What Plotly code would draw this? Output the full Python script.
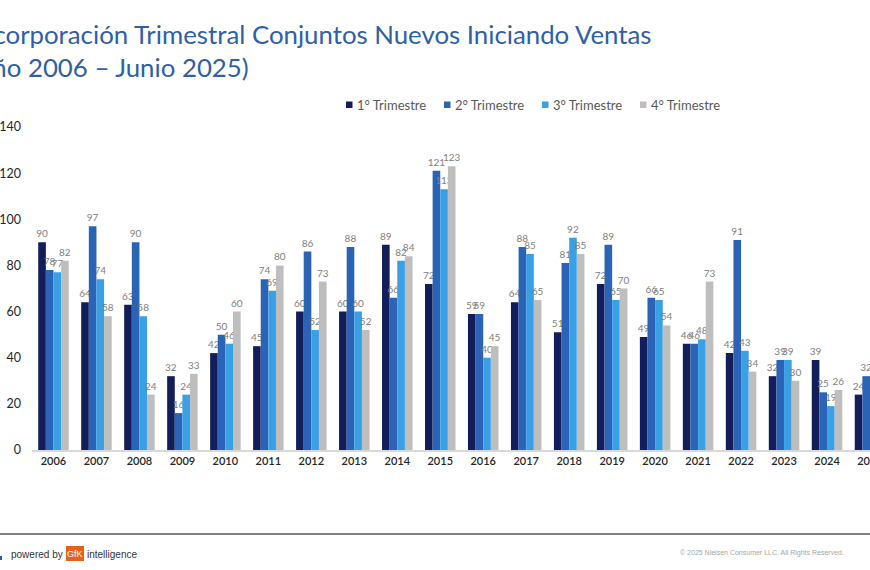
import plotly.graph_objects as go

years = ["2006", "2007", "2008", "2009", "2010", "2011", "2012", "2013", "2014", "2015",
         "2016", "2017", "2018", "2019", "2020", "2021", "2022", "2023", "2024", "2025"]
q1 = [90, 64, 63, 32, 42, 45, 60, 60, 89, 72, 59, 64, 51, 72, 49, 46, 42, 32, 39, 24]
q2 = [78, 97, 90, 16, 50, 74, 86, 88, 66, 121, 59, 88, 81, 89, 66, 46, 91, 39, 25, 32]
q3 = [77, 74, 58, 24, 46, 69, 52, 60, 82, 113, 40, 85, 92, 65, 65, 48, 43, 39, 19, None]
q4 = [82, 58, 24, 33, 60, 80, 73, 52, 84, 123, 45, 65, 85, 70, 54, 73, 34, 30, 26, None]
series_names = ["1° Trimestre", "2° Trimestre", "3° Trimestre", "4° Trimestre"]
series_values = [q1, q2, q3, q4]
series_colors = ["#131d5a", "#2b63b6", "#3aa0e6", "#bebebe"]
y_ticks = [0, 20, 40, 60, 80, 100, 120, 140]

W, H = 870, 570
L, R, T, B = 32, 0, 127, 120
PW = W - L - R
PH = H - T - B


def px_x(x):
    return (x - L) / PW


def px_y(y):
    return (H - B - y) / PH


fig = go.Figure()
for name, vals, col in zip(series_names, series_values, series_colors):
    fig.add_trace(go.Bar(
        x=years, y=vals, name=name, marker_color=col, marker_line_width=0,
        text=[("" if v is None else str(v)) for v in vals],
        textposition="outside", cliponaxis=False, constraintext="none",
        textfont=dict(family="Lato", size=10, color="#808080"),
        showlegend=False,
    ))

fig.update_layout(
    width=W, height=H,
    margin=dict(l=L, r=R, t=T, b=B, autoexpand=False),
    paper_bgcolor="white", plot_bgcolor="white",
    barmode="group", bargap=0.29, bargroupgap=0,
    font=dict(family="Lato", color="#262626"),
    showlegend=False,
    xaxis=dict(type="category", range=[-0.5, 19.0], showgrid=False,
               showline=True, linecolor="#d9d9d9", linewidth=1.5,
               ticks="", tickfont=dict(family="Lato", size=11, color="#262626", weight=600)),
    yaxis=dict(range=[0, 140], tickvals=y_ticks, showgrid=False, showline=False,
               zeroline=False, ticks="", ticklabelstandoff=10,
               tickfont=dict(family="Lato", size=12.5, color="#262626")),
)

# legend (squares + labels)
legend_x = [346, 444, 542, 640]
for lx, name, col in zip(legend_x, series_names, series_colors):
    fig.add_shape(type="rect", xref="paper", yref="paper",
                  x0=px_x(lx), x1=px_x(lx + 6.5), y0=px_y(101.5), y1=px_y(108),
                  fillcolor=col, line_width=0)
    fig.add_annotation(xref="paper", yref="paper", x=px_x(lx + 9), y=px_y(104.5),
                       xanchor="left", yanchor="middle", showarrow=False,
                       text=name, font=dict(family="Lato", size=13, color="#595959"))

title_color = "#2f5fa7"
fig.add_annotation(xref="paper", yref="paper", x=px_x(-30), y=px_y(34),
                   xanchor="left", yanchor="middle", showarrow=False,
                   text="Incorporación Trimestral Conjuntos Nuevos Iniciando Ventas",
                   font=dict(family="Lato", size=25.8, color=title_color))
fig.add_annotation(xref="paper", yref="paper", x=px_x(-34.5), y=px_y(67),
                   xanchor="left", yanchor="middle", showarrow=False,
                   text="(Año 2006 – Junio 2025)",
                   font=dict(family="Lato", size=25.8, color=title_color))

# footer
fig.add_shape(type="line", xref="paper", yref="paper", x0=px_x(0), x1=px_x(W),
              y0=px_y(534), y1=px_y(534), line=dict(color="#595959", width=1.5))
fig.add_shape(type="rect", xref="paper", yref="paper", x0=px_x(66), x1=px_x(84),
              y0=px_y(546), y1=px_y(561), fillcolor="#e8601c", line_width=0)
fig.add_shape(type="rect", xref="paper", yref="paper", x0=px_x(0), x1=px_x(2),
              y0=px_y(556), y1=px_y(560), fillcolor="#2f5fa7", line_width=0)
fig.add_annotation(xref="paper", yref="paper", x=px_x(9), y=px_y(554),
                   xanchor="left", yanchor="middle", showarrow=False,
                   text="powered by", font=dict(family="Liberation Sans", size=10, color="#333333"))
fig.add_annotation(xref="paper", yref="paper", x=px_x(75), y=px_y(554),
                   xanchor="center", yanchor="middle", showarrow=False,
                   text="GfK", font=dict(family="Liberation Sans", size=9, color="white"))
fig.add_annotation(xref="paper", yref="paper", x=px_x(85), y=px_y(554),
                   xanchor="left", yanchor="middle", showarrow=False,
                   text="intelligence", font=dict(family="Liberation Sans", size=10, color="#333333"))
fig.add_annotation(xref="paper", yref="paper", x=px_x(846), y=px_y(553),
                   xanchor="right", yanchor="middle", showarrow=False,
                   text="© 2025 Nielsen Consumer LLC. All Rights Reserved.",
                   font=dict(family="Liberation Sans", size=7, color="#a6a6a6"))

fig.write_html("out.html")
